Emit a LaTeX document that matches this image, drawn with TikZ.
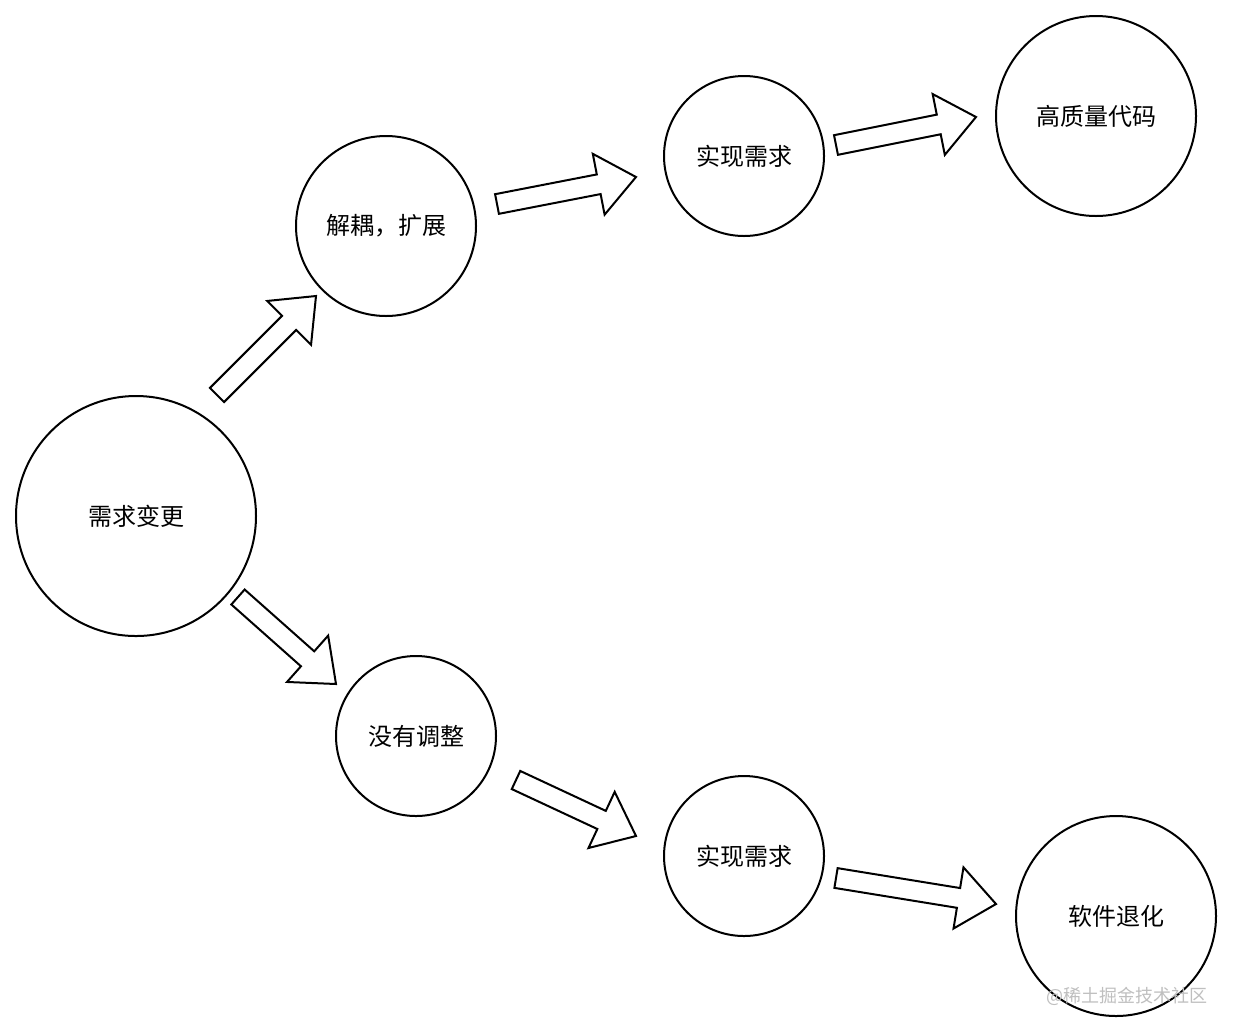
\documentclass[tikz,border=0pt]{standalone}
\usepackage{fontspec}
\newfontfamily\cjk{Noto Sans CJK SC}
\usetikzlibrary{calc}
\tikzset{
  circ/.style={circle, draw=black, line width=1pt, fill=white, inner sep=0pt, font=\cjk\fontsize{12pt}{14pt}\selectfont},
  blk/.style={draw=black, line width=1pt, fill=white, line join=miter}
}
\newcommand\blkarrow[2]{%
  \coordinate (bkN) at ($(#2)!19pt!(#1)$);
  \draw[blk] ($(#1)!5pt!90:(#2)$) -- ($(bkN)!5pt!90:(#2)$) -- ($(bkN)!15.5pt!90:(#2)$)
    -- (#2) -- ($(bkN)!15.5pt!-90:(#2)$) -- ($(bkN)!5pt!-90:(#2)$) -- ($(#1)!5pt!-90:(#2)$) -- cycle;
}
\begin{document}
\begin{tikzpicture}[x=0.5pt,y=-0.5pt]
\useasboundingbox (0,0) rectangle (1234,1034);
\fill[white] (0,0) rectangle (1234,1034);
\node[circ, minimum size=120pt] (bg) at (136,516) {需求变更};
\node[circ, minimum size=90pt] (jo) at (386,226) {解耦，扩展};
\node[circ, minimum size=80pt] (s1) at (744,156) {实现需求};
\node[circ, minimum size=100pt] (hq) at (1096,116) {高质量代码};
\node[circ, minimum size=80pt] (mt) at (416,736) {没有调整};
\node[circ, minimum size=80pt] (s2) at (744,856) {实现需求};
\node[circ, minimum size=100pt] (th) at (1116,916) {软件退化};
\coordinate (a1s) at (217,395); \coordinate (a1e) at (316,296);
\coordinate (a2s) at (238,597); \coordinate (a2e) at (336,684);
\coordinate (a3s) at (497,204); \coordinate (a3e) at (636,177);
\coordinate (a4s) at (836,145); \coordinate (a4e) at (976,117);
\coordinate (a5s) at (516,780); \coordinate (a5e) at (636,836);
\coordinate (a6s) at (836,878); \coordinate (a6e) at (996,904);
\blkarrow{a1s}{a1e}
\blkarrow{a2s}{a2e}
\blkarrow{a3s}{a3e}
\blkarrow{a4s}{a4e}
\blkarrow{a5s}{a5e}
\blkarrow{a6s}{a6e}
\node[font=\cjk\fontsize{9pt}{11pt}\selectfont, text=black!25, anchor=east, inner sep=0pt] (wm) at (1208,996) {@稀土掘金技术社区};
\end{tikzpicture}
\end{document}
